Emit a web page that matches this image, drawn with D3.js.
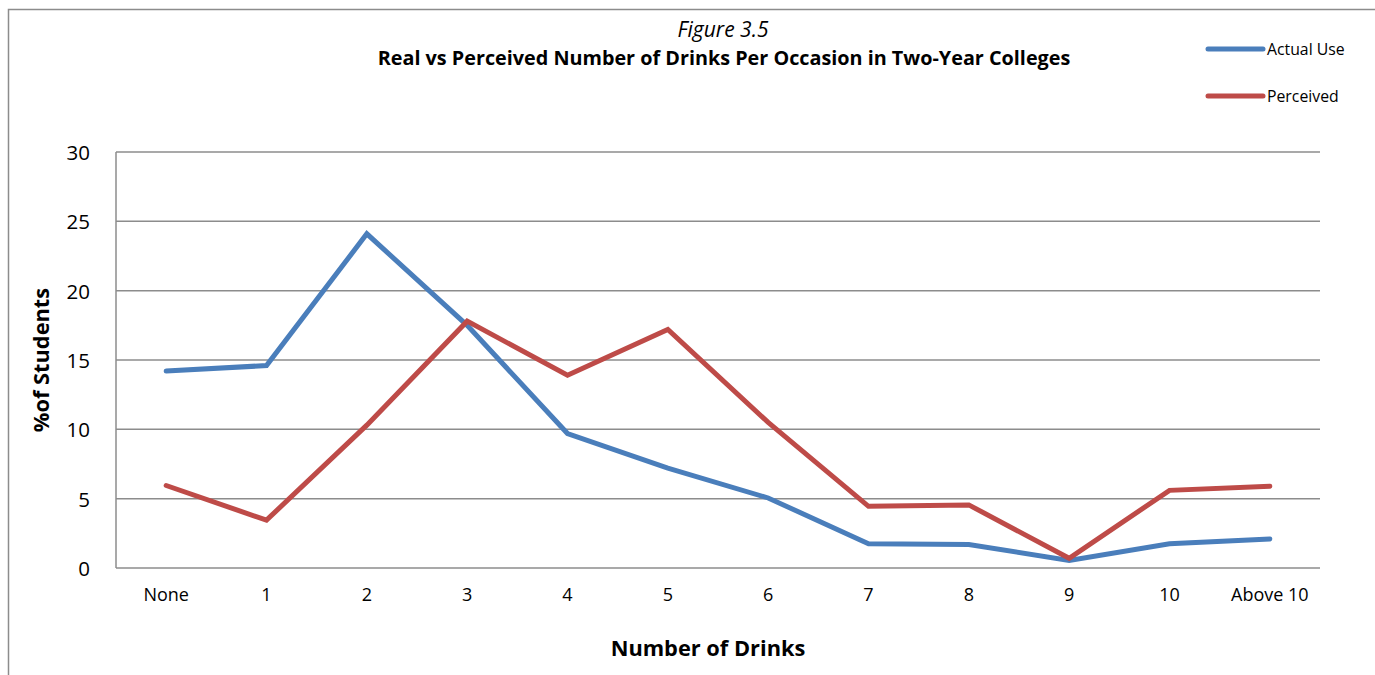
<!DOCTYPE html>
<html><head><meta charset="utf-8">
<script src="https://cdn.jsdelivr.net/npm/d3@7"></script>
<style>body{margin:0;background:#fff}svg{display:block}text{font-family:"Open Sans",sans-serif}</style>
</head><body><svg id="c" width="1375" height="675"></svg>
<script>
const categories = ["None","1","2","3","4","5","6","7","8","9","10","Above 10"];
const actualUse = [14.2,14.6,24.1,17.5,9.7,7.2,5.05,1.75,1.7,0.55,1.75,2.1];
const perceived = [5.95,3.45,10.3,17.8,13.9,17.2,10.5,4.45,4.55,0.7,5.6,5.9];
const yTicks = [0,5,10,15,20,25,30];
const seriesNames = ["Actual Use","Perceived"];
const colors = ["#4A7EBB","#BE4B48"];

const svg = d3.select("#c");
const M = {l:116, r:1320, t:152, b:568};
const x = d3.scaleBand().domain(categories).range([M.l, M.r]);
const y = d3.scaleLinear().domain([0,30]).range([M.b, M.t]);

// outer frame
svg.append("path").attr("d","M8.5,675 V9.5 H1375").attr("fill","none").attr("stroke","#8c8c8c").attr("stroke-width",1.5);

// gridlines
svg.append("g").selectAll("line").data(yTicks).join("line")
  .attr("x1",M.l).attr("x2",M.r).attr("y1",d=>y(d)).attr("y2",d=>y(d))
  .attr("stroke","#8c8c8c").attr("stroke-width",1.5);
svg.append("line").attr("x1",M.l).attr("x2",M.l).attr("y1",M.t).attr("y2",M.b).attr("stroke","#8c8c8c").attr("stroke-width",1.5);

// y axis labels
const ya = svg.append("g").attr("transform",`translate(${M.l-26},0)`)
  .call(d3.axisLeft(y).tickValues(yTicks).tickSize(0).tickPadding(0));
ya.select(".domain").remove();
ya.selectAll("text").attr("font-family","Open Sans").attr("font-size",20.5).attr("fill","#000").attr("dy","0.36em");

// x axis labels
const xa = svg.append("g").attr("transform",`translate(0,${M.b})`)
  .call(d3.axisBottom(x).tickSize(0).tickPadding(20));
xa.select(".domain").remove();
xa.selectAll("text").attr("font-family","Open Sans").attr("font-size",18).attr("fill","#000");

// lines
const line = d3.line().x((d,i)=>x(categories[i])+x.bandwidth()/2).y(d=>y(d));
[actualUse, perceived].forEach((s,i)=>{
  svg.append("path").attr("d",line(s)).attr("fill","none").attr("stroke",colors[i])
    .attr("stroke-width",5).attr("stroke-linejoin","miter").attr("stroke-linecap","round");
});

// titles
svg.append("text").attr("x",723).attr("y",37).attr("text-anchor","middle").attr("font-style","italic").attr("font-size",21).text("Figure 3.5");
svg.append("text").attr("x",724).attr("y",65).attr("text-anchor","middle").attr("font-weight","bold").attr("font-size",19.8).text("Real vs Perceived Number of Drinks Per Occasion in Two-Year Colleges");
svg.append("text").attr("x",708).attr("y",656).attr("text-anchor","middle").attr("font-weight","bold").attr("font-size",21.8).text("Number of Drinks");
svg.append("text").attr("transform","translate(49,360) rotate(-90)").attr("text-anchor","middle").attr("font-weight","bold").attr("font-size",21.8).text("%of Students");

// legend
const lg = svg.append("g").selectAll("g").data(seriesNames).join("g").attr("transform",(d,i)=>`translate(1208,${49+i*47})`);
lg.append("line").attr("x1",0).attr("x2",55).attr("stroke",(d,i)=>colors[i]).attr("stroke-width",5).attr("stroke-linecap","round");
lg.append("text").attr("x",59).attr("dy","0.35em").attr("font-size",15.8).text(d=>d);
</script></body></html>
